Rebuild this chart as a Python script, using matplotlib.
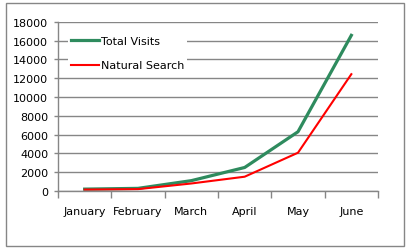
import matplotlib.pyplot as plt
from matplotlib.patches import Rectangle

months = ['January', 'February', 'March', 'April', 'May', 'June']
total_visits = [200, 280, 1100, 2500, 6300, 16550]
natural_search = [150, 200, 800, 1520, 4070, 12420]

fig = plt.figure(figsize=(4.08, 2.51), dpi=100)
fig.patches.append(Rectangle((6 / 408, 4 / 251), 398 / 408, 243 / 251,
                             transform=fig.transFigure, fill=False,
                             edgecolor='#868686', lw=1.0))
ax = fig.add_axes([58 / 408, 59 / 251, 320 / 408, 169.3 / 251])

x = range(len(months))
ax.plot(x, total_visits, color='#2e8b5e', lw=2.3, label='Total Visits')
ax.plot(x, natural_search, color='#ff0000', lw=1.5, label='Natural Search')

ax.set_xlim(-0.5, 5.5)
ax.set_ylim(0, 18000)
ax.set_yticks(range(0, 18001, 2000))
ax.set_xticks(list(x))
ax.set_xticklabels(months)
ax.set_xticks([i - 0.5 for i in range(7)], minor=True)
ax.tick_params(axis='x', which='major', length=0, pad=11, labelsize=8)
ax.tick_params(axis='x', which='minor', length=5, color='#868686', width=1)
ax.tick_params(axis='y', length=3, color='#868686', width=1, labelsize=8, pad=4)
ax.grid(axis='y', color='#868686', lw=1)
ax.set_axisbelow(True)
for s in ['top', 'right']:
    ax.spines[s].set_visible(False)
for s in ['left', 'bottom']:
    ax.spines[s].set_color('#868686')
    ax.spines[s].set_linewidth(1)

leg = ax.legend(loc='upper left', bbox_to_anchor=(0.02, 0.955), frameon=True,
                fontsize=8, handlelength=2.5, handletextpad=0.15,
                labelspacing=1.3, borderaxespad=0.3, borderpad=0.3,
                fancybox=False)
leg.get_frame().set_edgecolor('none')
leg.get_frame().set_facecolor('white')
leg.get_frame().set_alpha(1)

fig.savefig('out.png', dpi=100)
